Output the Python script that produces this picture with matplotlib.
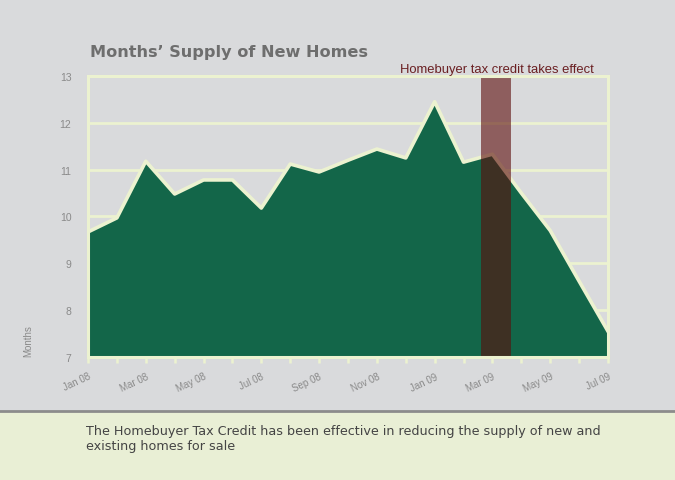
import numpy as np
import matplotlib as mpl
import matplotlib.pyplot as plt

mpl.rcParams.update({
    "font.family": ["Liberation Sans", "DejaVu Sans"],
    "figure.dpi": 100,
})

C_BG = "#d9dadc"; C_CREAM = "#ecf2d0"; C_FILL = "#136649"
C_BAND = "#5c0c0a"; C_TXT = "#8a8a8a"; C_NOTE = "#6a1f22"; C_FOOT = "#e9efd5"

# monthly months' supply, Jan 08 .. Jul 09
months = ["Jan 08", "Feb 08", "Mar 08", "Apr 08", "May 08", "Jun 08", "Jul 08",
          "Aug 08", "Sep 08", "Oct 08", "Nov 08", "Dec 08", "Jan 09", "Feb 09",
          "Mar 09", "Apr 09", "May 09", "Jun 09", "Jul 09"]
supply = [9.67, 9.97, 11.18, 10.48, 10.78, 10.78, 10.18, 11.12, 10.95, 11.2,
          11.44, 11.25, 12.45, 11.16, 11.33, 10.5, 9.7, 8.62, 7.55]
# tax credit band, in month index units
band_start, band_end = 13.6, 14.64
y_ticks = [7, 8, 9, 10, 11, 12, 13]

x = np.arange(len(months))

fig = plt.figure(figsize=(6.75, 4.81), facecolor=C_BG)
ax = fig.add_axes([0.1304, 0.2557, 0.7703, 0.5843])
ax.set_facecolor(C_BG)

for yv in y_ticks[1:-1]:
    ax.axhline(yv, color=C_CREAM, lw=2, zorder=1)
ax.fill_between(x, 7, supply, color=C_FILL, lw=0, zorder=2)
ax.plot(x, supply, color=C_CREAM, lw=2.6, solid_joinstyle="round", zorder=3)
ax.axvspan(band_start, band_end, color=C_BAND, alpha=0.6, lw=0, zorder=4)

ax.set_xlim(0, len(months) - 1)
ax.set_ylim(7, 13)
for s in ax.spines.values():
    s.set_color(C_CREAM); s.set_linewidth(2.2); s.set_zorder(5)

ax.set_yticks(y_ticks)
ax.tick_params(axis="y", length=0, pad=12, labelsize=7.5, labelcolor=C_TXT)
ax.set_xticks(x)
ax.set_xticklabels([m if i % 2 == 0 else "" for i, m in enumerate(months)],
                   rotation=25, ha="right", rotation_mode="anchor")
ax.tick_params(axis="x", length=4, width=1.8, color=C_CREAM, direction="out",
               pad=6, labelsize=7, labelcolor=C_TXT)
ax.set_ylabel("Months", fontsize=7, color=C_TXT)
ax.yaxis.set_label_coords(-0.105, 0.06)

fig.text(90 / 675, 1 - 52 / 481, "Months\u2019 Supply of New Homes", fontsize=11.6,
         fontweight="bold", family="DejaVu Sans", color="#6e6e6e",
         va="center", ha="left")
fig.text(497 / 675, 1 - 70 / 481, "Homebuyer tax credit takes effect", fontsize=9.4,
         color=C_NOTE, va="center", ha="center")

# footer panel
fig.patches.append(mpl.patches.Rectangle((0, 0), 1, 1 - 412 / 481, transform=fig.transFigure,
                                         facecolor=C_FOOT, edgecolor="none", zorder=0))
fig.lines.append(mpl.lines.Line2D([0, 1], [1 - 412 / 481] * 2, transform=fig.transFigure,
                                  color="#8c8c8c", lw=2))
fig.text(86 / 675, 1 - 439 / 481,
         "The Homebuyer Tax Credit has been effective in reducing the supply of new and\n"
         "existing homes for sale", fontsize=9.2, family="DejaVu Sans", color="#444444",
         va="center", ha="left", linespacing=1.2)

fig.savefig("out.png", dpi=100, facecolor=C_BG)
